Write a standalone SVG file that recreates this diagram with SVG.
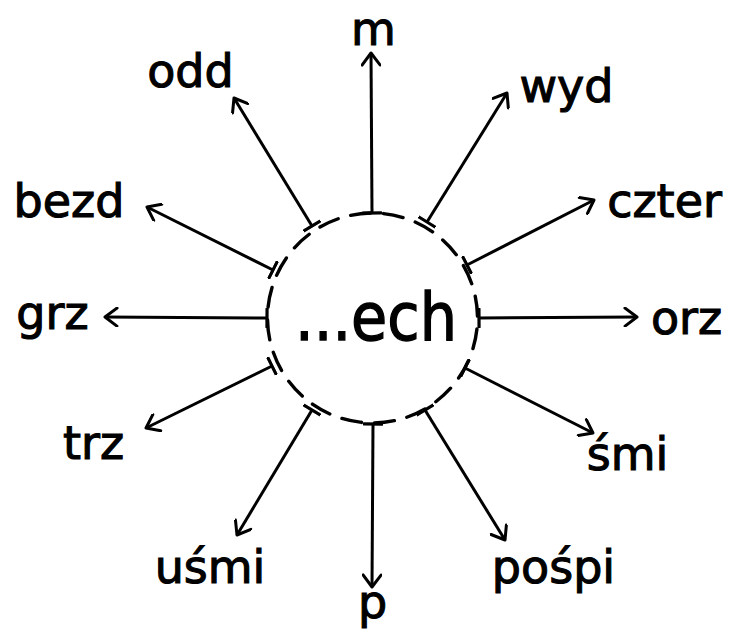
<svg xmlns="http://www.w3.org/2000/svg" width="736" height="635" viewBox="0 0 736 635">
<style>
  .lbl { font-family: "DejaVu Sans", "Liberation Sans", sans-serif; font-size: 46px; fill: #000; stroke: #000; stroke-width: 1.1; text-anchor: middle; }
  .ctr { font-family: "DejaVu Sans", "Liberation Sans", sans-serif; font-size: 66px; fill: #000; stroke: #000; stroke-width: 1.4; text-anchor: middle; }
  .spoke { stroke: #000; stroke-width: 3; fill: none; marker-start: url(#tick); marker-end: url(#arrow); }
</style>
<defs>
  <marker id="arrow" viewBox="0 0 18 20" refX="15" refY="10" markerWidth="18" markerHeight="20" markerUnits="userSpaceOnUse" orient="auto">
    <path d="M3,1 L15,10 L3,19" fill="none" stroke="#000" stroke-width="3" stroke-linecap="round" stroke-linejoin="round"/>
  </marker>
  <marker id="tick" viewBox="0 0 4 20" refX="2" refY="10" markerWidth="4" markerHeight="20" markerUnits="userSpaceOnUse" orient="auto">
    <path d="M2,1 L2,19" fill="none" stroke="#000" stroke-width="3.2" stroke-linecap="round"/>
  </marker>
</defs>
<rect width="736" height="635" fill="#fff"/>
<g id="center">
  <circle cx="372.5" cy="318" r="105" fill="none" stroke="#000" stroke-width="3.4" stroke-linecap="round" stroke-dasharray="20 13" pathLength="660" transform="rotate(-84 372.5 318)"/>
  <text class="ctr" x="376" y="340" textLength="162" lengthAdjust="spacingAndGlyphs">...ech</text>
</g>
<g id="connectors">
  <line class="spoke" x1="372" y1="213" x2="371" y2="53"/>
  <line class="spoke" x1="427" y1="222" x2="507" y2="93"/>
  <line class="spoke" x1="467" y1="265" x2="594" y2="200"/>
  <line class="spoke" x1="479" y1="318" x2="637" y2="317"/>
  <line class="spoke" x1="465" y1="368" x2="593" y2="433"/>
  <line class="spoke" x1="425" y1="410" x2="505" y2="540"/>
  <line class="spoke" x1="373" y1="424" x2="372" y2="587"/>
  <line class="spoke" x1="312" y1="410" x2="237" y2="535"/>
  <line class="spoke" x1="272" y1="366" x2="146" y2="428"/>
  <line class="spoke" x1="267" y1="318" x2="105" y2="317"/>
  <line class="spoke" x1="273" y1="270" x2="147" y2="207"/>
  <line class="spoke" x1="312" y1="226" x2="234" y2="98"/>
</g>
<g id="n-m"><text class="lbl" x="373.5" y="45">m</text></g>
<g id="n-wyd"><text class="lbl" x="566.5" y="102">wyd</text></g>
<g id="n-czter"><text class="lbl" x="664.5" y="217">czter</text></g>
<g id="n-orz"><text class="lbl" x="686.5" y="334">orz</text></g>
<g id="n-smi"><text class="lbl" x="627.5" y="470">śmi</text></g>
<g id="n-pospi"><text class="lbl" x="553.5" y="583">pośpi</text></g>
<g id="n-p"><text class="lbl" x="372.5" y="618">p</text></g>
<g id="n-usmi"><text class="lbl" x="210" y="583">uśmi</text></g>
<g id="n-trz"><text class="lbl" x="93.5" y="459">trz</text></g>
<g id="n-grz"><text class="lbl" x="52.5" y="329">grz</text></g>
<g id="n-bezd"><text class="lbl" x="69" y="217">bezd</text></g>
<g id="n-odd"><text class="lbl" x="190.5" y="87">odd</text></g>
</svg>
